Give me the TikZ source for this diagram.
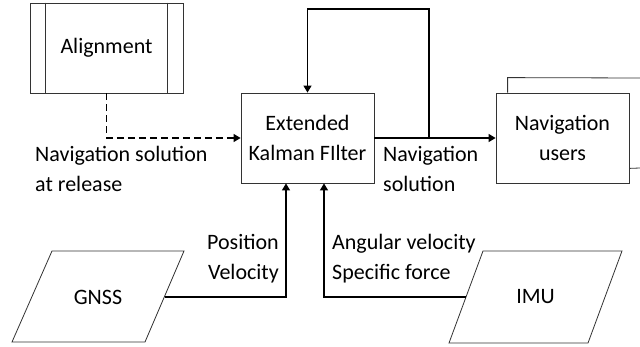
\documentclass[tikz,border=0pt]{standalone}
\usepackage{fontspec}
\setmainfont{Carlito}
\usetikzlibrary{arrows.meta}
\begin{document}
\begin{tikzpicture}[x=1pt,y=1pt,
  every node/.style={font=\fontsize{22}{30}\selectfont},
  boxline/.style={draw=black!80, line width=0.8pt},
  box/.style={boxline, minimum width=133pt, minimum height=90pt, inner sep=0pt, align=center, fill=white},
  conn/.style={line width=1.1pt, -{Triangle[length=7pt,width=8pt]}},
  dconn/.style={conn, dash pattern=on 7pt off 4pt},
  lbl/.style={inner sep=0pt, align=left},
  rlbl/.style={inner sep=0pt, align=right},
  ptext/.style={inner sep=0pt}]
\useasboundingbox (0,0) rectangle (640,-347);
% boxes
\node[box, minimum width=153pt] (align) at (106.5,-48) {Alignment};
\draw[boxline] ([xshift=16pt]align.north west) -- ([xshift=16pt]align.south west);
\draw[boxline] ([xshift=-16pt]align.north east) -- ([xshift=-16pt]align.south east);
\node[box] (ekf) at (307.5,-138) {Extended\\Kalman FIlter};
\node[box] (users) at (562.5,-138) {Navigation\\users};
\draw[boxline] ([xshift=12pt]users.north west) -- ++(0,15) -- (640,-78);
\draw[boxline] ([yshift=15pt]users.south east) -- (640,-168);
% parallelograms
\node[ptext] (gnss) at (98,-297) {GNSS};
\draw[boxline] (52,-251) -- (184,-251) -- (145,-342) -- (12,-342) -- cycle;
\coordinate (gnssR) at (164.5,-297);
\node[ptext] (imu) at (535.5,-297) {IMU};
\draw[boxline] (483,-251) -- (622,-251) -- (588,-343) -- (449,-343) -- cycle;
\coordinate (imuL) at (466,-297);
% connectors
\draw[dconn] (align.south) |- (ekf.west);
\draw[conn] (ekf.east) -- (users.west);
\coordinate (fb) at (429,-138);
\draw[conn] (fb) -- (429,-9) -| (ekf.north);
\draw[conn] (gnssR) -| ([xshift=-21.5pt]ekf.south);
\draw[conn] (imuL) -| ([xshift=16.5pt]ekf.south);
% labels
\node[lbl, anchor=north west] (l1) at (35,-146) {Navigation solution\\at release};
\node[lbl, anchor=north west] (l2) at (383,-146) {Navigation\\solution};
\node[rlbl, anchor=north east] (l3) at (279,-234) {Position\\Velocity};
\node[lbl, anchor=north west] (l4) at (332,-234) {Angular velocity\\Specific force};
\end{tikzpicture}
\end{document}
